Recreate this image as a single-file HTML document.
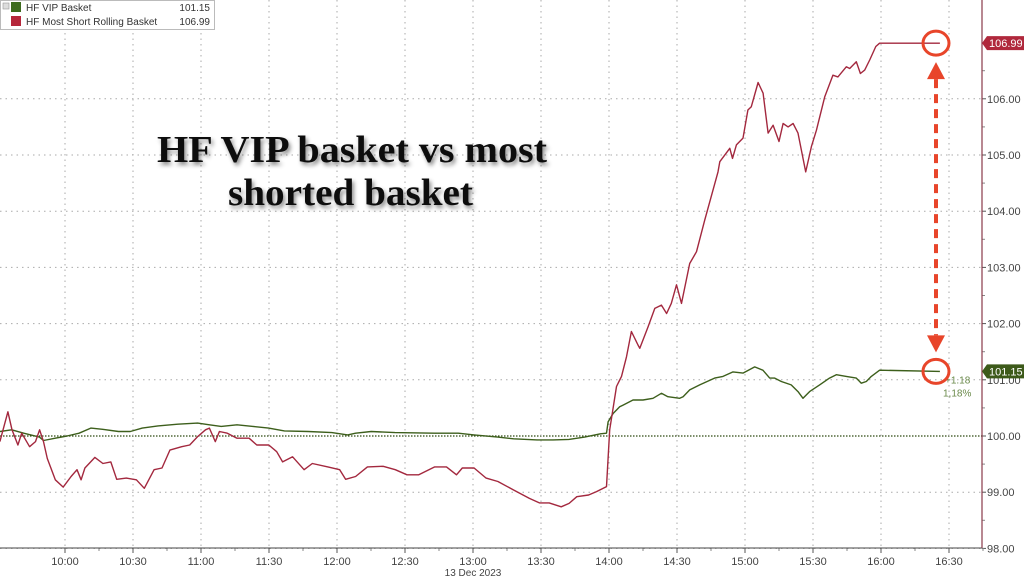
<!DOCTYPE html>
<html><head><meta charset="utf-8"><style>
html,body{margin:0;padding:0;background:#fff;}
svg{display:block;font-family:"Liberation Sans",sans-serif;}
</style></head><body>
<svg id="chart" width="1024" height="577" viewBox="0 0 1024 577" xmlns="http://www.w3.org/2000/svg">
<defs><filter id="sh" x="-10%" y="-30%" width="120%" height="160%"><feDropShadow dx="2" dy="3" stdDeviation="2" flood-color="#000" flood-opacity="0.45"/></filter></defs>
<g id="grid"></g>
<g id="series"></g>
<g id="axes"></g>
<g filter="url(#sh)" font-family="Liberation Serif, serif" font-weight="bold" font-size="38" fill="#111">
<text x="157" y="162" textLength="390" lengthAdjust="spacingAndGlyphs">HF VIP basket vs most</text>
<text x="228" y="205" textLength="245" lengthAdjust="spacingAndGlyphs">shorted basket</text>
</g>
<g>
<rect x="0.5" y="0.5" width="214" height="29" fill="#fff" stroke="#bbb"/>
<rect x="3" y="3" width="6" height="6" fill="#ddd" stroke="#999" stroke-width="0.6"/>
<rect x="11" y="2" width="10" height="10" fill="#3d6b1e"/>
<text x="26" y="11" font-size="10" fill="#333">HF VIP Basket</text>
<text x="210" y="11" font-size="10" fill="#333" text-anchor="end">101.15</text>
<rect x="11" y="16" width="10" height="10" fill="#b5263a"/>
<text x="26" y="25" font-size="10" fill="#333">HF Most Short Rolling Basket</text>
<text x="210" y="25" font-size="10" fill="#333" text-anchor="end">106.99</text>
</g>
<g id="annot"></g>
</svg>
<script>
// data
const yTicks=[98,99,100,101,102,103,104,105,106];
const xTickMinutes=[600,630,660,690,720,750,780,810,840,870,900,930,960,990];
const xTickLabels=["10:00","10:30","11:00","11:30","12:00","12:30","13:00","13:30","14:00","14:30","15:00","15:30","16:00","16:30"];
const shortTimes=[571.3,574.8,576.6,579.2,580.9,584.4,587,588.8,590.5,592.2,595.7,599.2,602.7,605.3,607.1,608.8,613.2,616.7,620.2,622.8,627.1,631.5,635,639.3,642.8,646.3,651.5,655,658.5,662,663.7,666.3,668.1,671.6,675.9,681.2,684.6,689.9,693.4,696,700.4,705.5,709.1,716,721.2,723.8,728.2,733.4,740.4,745.7,750.9,756.1,763.1,768.3,772.7,775.3,780.5,785.8,791,797.9,804.9,809.3,813.6,818.9,822.4,825.8,831,834.5,838.9,840.3,843.3,845.5,847.7,849.9,852.8,853.6,857.2,860.2,863.1,865.4,867.5,869.8,872,875.6,878.6,882.2,888.1,888.9,893.3,894.5,896.2,899.1,901.3,902.8,905.8,908,910.2,912.4,915,916.8,919,921.2,923.4,926.8,929.3,931.5,935.2,938.8,941,944.7,946.2,949.1,950.9,952.8,955,957.7,959.4,986];
const shortValues=[99.9,100.43,100.11,99.84,100.05,99.81,99.9,100.11,99.9,99.6,99.22,99.09,99.28,99.4,99.22,99.43,99.62,99.51,99.54,99.23,99.25,99.22,99.07,99.4,99.43,99.75,99.81,99.84,99.99,100.11,100.14,99.9,100.08,100.05,99.96,99.96,99.84,99.84,99.72,99.54,99.63,99.4,99.51,99.45,99.4,99.23,99.28,99.45,99.46,99.4,99.31,99.31,99.45,99.45,99.31,99.43,99.43,99.25,99.19,99.04,98.89,98.81,98.81,98.74,98.8,98.92,98.95,99.01,99.1,100.11,100.88,101.06,101.41,101.86,101.62,101.56,101.94,102.27,102.33,102.18,102.36,102.69,102.36,103.07,103.28,103.84,104.7,104.88,105.12,104.94,105.18,105.3,105.8,105.86,106.29,106.1,105.39,105.53,105.24,105.56,105.5,105.56,105.39,104.7,105.15,105.44,106.04,106.42,106.39,106.57,106.54,106.66,106.45,106.51,106.69,106.93,106.99,106.99];
const vipTimes=[571.3,576.5,581.8,588.7,590.5,595.7,600.9,606.2,611.4,616.6,623.6,628.8,634.1,641,649.7,658.5,663.7,668.9,675.9,682.9,689.8,696.8,707.3,717.7,724.7,728.2,735.1,745.6,763,773.5,780.5,790.9,797.9,808.3,815.3,822.3,829.3,836.2,838.9,839.6,841.8,844.7,846.2,850.6,855,859.4,863.1,866,871.2,872.7,875.6,880,886.6,890.3,894.7,899.1,904.3,907.9,910.9,913.1,916,920.4,923.4,925.6,928.5,932.9,937.3,940.3,944.7,949.1,951.3,953.5,955.7,959.4,986];
const vipValues=[100.08,100.11,100.05,99.98,99.92,99.96,100,100.05,100.14,100.12,100.08,100.08,100.14,100.18,100.21,100.23,100.2,100.17,100.2,100.17,100.14,100.09,100.08,100.06,100.02,100.05,100.08,100.06,100.05,100.05,100.02,99.98,99.95,99.93,99.93,99.94,99.98,100.04,100.05,100.25,100.4,100.52,100.55,100.64,100.64,100.67,100.76,100.7,100.67,100.7,100.82,100.91,101.03,101.06,101.14,101.12,101.23,101.17,101.03,101.03,100.97,100.91,100.79,100.67,100.79,100.91,101.03,101.09,101.06,101.03,100.94,100.97,101.06,101.17,101.15];
const lastVip=101.15, lastShort=106.99;

const NS="http://www.w3.org/2000/svg";
const X=t=>65+(t-600)/30*68;
const Y=v=>436-(v-100)*56.2;
function mk(parent,tag,attrs){const e=document.createElementNS(NS,tag);for(const k in attrs)e.setAttribute(k,attrs[k]);parent.appendChild(e);return e;}
const grid=document.getElementById('grid'),series=document.getElementById('series'),axes=document.getElementById('axes'),annot=document.getElementById('annot');
const AX=982, AY=548;
yTicks.forEach(v=>{
  const l=mk(grid,'line',{x1:0,x2:AX,y1:Y(v),y2:Y(v),stroke:v===100?'#2f4a12':'#aaa','stroke-width':v===100?1.3:1,'stroke-dasharray':v===100?'1.5 1.5':'1.5 4'});
  
  
  const tk=mk(axes,'line',{x1:AX,x2:AX+4,y1:Y(v),y2:Y(v),stroke:'#555'});
  
  
  const t=mk(axes,'text',{x:AX+5,y:Y(v)+4,'font-size':11,fill:'#444'});
  t.textContent=v.toFixed(2);
  
  
});
for(let v=98.5;v<107.5;v+=1){const m=mk(axes,'line',{x1:AX,x2:AX+3,y1:Y(v),y2:Y(v),stroke:'#888'});
  
  }
xTickMinutes.forEach((m,i)=>{
  const l=mk(grid,'line',{x1:X(m),x2:X(m),y1:0,y2:AY,stroke:'#aaa','stroke-dasharray':'1.5 4'});
  
  
  const tk=mk(axes,'line',{x1:X(m),x2:X(m),y1:AY,y2:AY+5,stroke:'#555'});
  
  
  const t=mk(axes,'text',{x:X(m),y:AY+17,'font-size':11,fill:'#444','text-anchor':'middle'});
  t.textContent=xTickLabels[i];
  
  
  const mn=mk(axes,'line',{x1:X(m+15),x2:X(m+15),y1:AY,y2:AY+3,stroke:'#888'});
  
  
});
const xa=mk(axes,'line',{x1:0,x2:AX,y1:AY,y2:AY,stroke:'#444'});


const ya=mk(axes,'line',{x1:AX,x2:AX,y1:0,y2:AY,stroke:'#8a3a4a','stroke-width':1.2});


const dl=mk(axes,'text',{x:X(780),y:576,'font-size':10,fill:'#444','text-anchor':'middle'});
dl.textContent='13 Dec 2023';


function line(ts,vs,color,name){
  const d=ts.map((t,i)=>(i?'L':'M')+X(t).toFixed(1)+','+Y(vs[i]).toFixed(1)).join('');
  const p=mk(series,'path',{d:d,fill:'none',stroke:color,'stroke-width':1.4,'stroke-linejoin':'round'});
  
  
}
line(vipTimes,vipValues,'#3d5f1c','vip-basket-line');
line(shortTimes,shortValues,'#a3283e','most-short-basket-line');
function tag(v,color,name){
  const g=mk(axes,'g',{});
  
  
  mk(g,'path',{d:`M${AX},${Y(v)} L${AX+5},${Y(v)-7} H1024 V${Y(v)+7} H${AX+5} Z`,fill:color});
  const t=mk(g,'text',{x:AX+7,y:Y(v)+4,'font-size':11,fill:'#fff'});t.textContent=v.toFixed(2);
}
tag(lastShort,'#b0283c','short-value-tag');
tag(lastVip,'#3d5a1a','vip-value-tag');
const c1=mk(annot,'text',{x:945,y:Y(lastVip)+12,'font-size':10,fill:'#6a8a4a'});c1.textContent='+1.18';


const c2=mk(annot,'text',{x:943,y:Y(lastVip)+25,'font-size':10,fill:'#6a8a4a'});c2.textContent='1,18%';


const OC='#e8452a', cx=936;
[[lastShort,'short-end-circle'],[lastVip,'vip-end-circle']].forEach(([v,n])=>{
  const c=mk(annot,'ellipse',{cx:cx,cy:Y(v),rx:13,ry:12,fill:'none',stroke:OC,'stroke-width':3});
  
  
});
const ar=mk(annot,'line',{x1:cx,x2:cx,y1:Y(lastShort)+36,y2:Y(lastVip)-36,stroke:OC,'stroke-width':4,'stroke-dasharray':'9 6'});


const h1=mk(annot,'path',{d:`M${cx},${Y(lastShort)+19} L${cx-9},${Y(lastShort)+36} L${cx+9},${Y(lastShort)+36} Z`,fill:OC});


const h2=mk(annot,'path',{d:`M${cx},${Y(lastVip)-19} L${cx-9},${Y(lastVip)-36} L${cx+9},${Y(lastVip)-36} Z`,fill:OC});


</script>
</body></html>
